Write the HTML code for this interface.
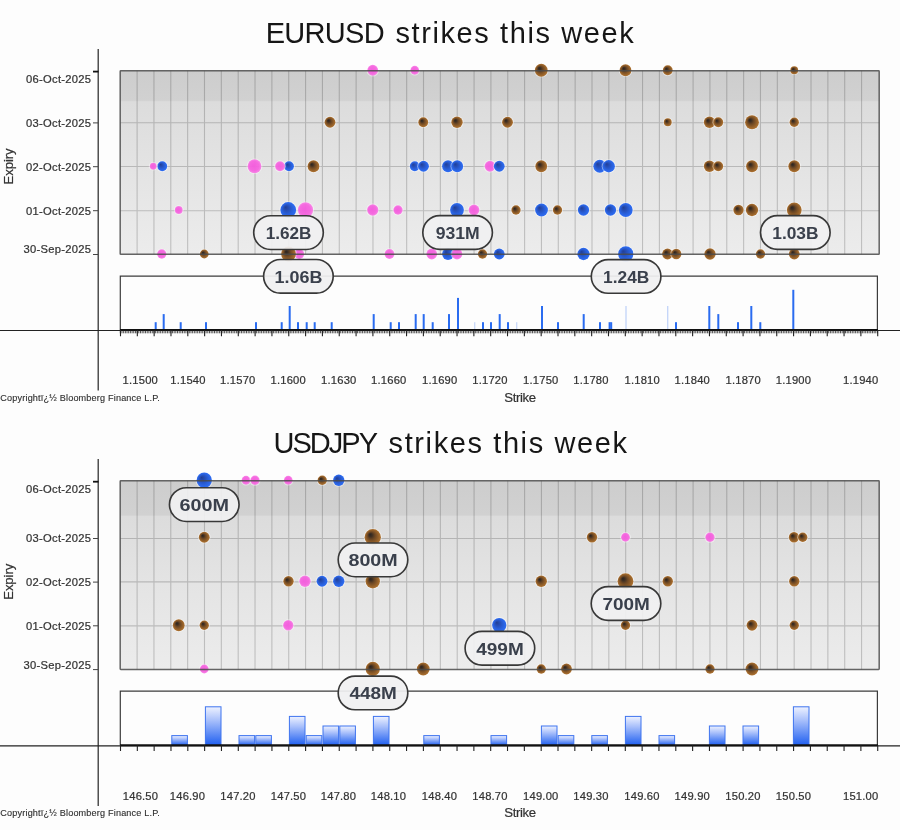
<!DOCTYPE html>
<html><head><meta charset="utf-8"><title>Strikes this week</title>
<style>
html,body{margin:0;padding:0;background:#fdfdfd;}
body{width:900px;height:830px;overflow:hidden;font-family:"Liberation Sans", sans-serif;}
svg{display:block;font-family:"Liberation Sans", sans-serif;will-change:transform;}
</style></head><body>
<svg width="900" height="830" viewBox="0 0 900 830">
<rect width="900" height="830" fill="#fdfdfd"/>
<defs>
<radialGradient id="gb" cx="0.5" cy="0.5" r="0.5" fx="0.32" fy="0.32">
<stop offset="0" stop-color="#213f96"/><stop offset="0.32" stop-color="#264eb6"/><stop offset="0.68" stop-color="#2960dc"/><stop offset="1" stop-color="#2e6df4"/></radialGradient>
<radialGradient id="gp" cx="0.5" cy="0.5" r="0.5" fx="0.4" fy="0.45">
<stop offset="0" stop-color="#f356dc"/><stop offset="0.7" stop-color="#f560de"/><stop offset="1" stop-color="#f87fe6"/></radialGradient>
<radialGradient id="gn" cx="0.5" cy="0.5" r="0.5" fx="0.33" fy="0.33">
<stop offset="0" stop-color="#2a2522"/><stop offset="0.2" stop-color="#3f2f22"/><stop offset="0.45" stop-color="#6c4724"/><stop offset="0.72" stop-color="#8e5c28"/><stop offset="1" stop-color="#ae7230"/></radialGradient>
</defs>
<defs><linearGradient id="bg1" x1="0" y1="0" x2="0" y2="1"><stop offset="0" stop-color="#cdcdcd"/><stop offset="0.1608" stop-color="#d1d1d1"/><stop offset="0.1689" stop-color="#dcdcdc"/><stop offset="0.55" stop-color="#e4e4e4"/><stop offset="1" stop-color="#ececec"/></linearGradient></defs>
<rect x="120.2" y="70.8" width="759.0" height="183.5" fill="url(#bg1)"/>
<path d="M137.10 70.8V254.3M153.95 70.8V254.3M170.79 70.8V254.3M187.64 70.8V254.3M204.49 70.8V254.3M221.34 70.8V254.3M238.19 70.8V254.3M255.03 70.8V254.3M271.88 70.8V254.3M288.73 70.8V254.3M305.58 70.8V254.3M322.43 70.8V254.3M339.27 70.8V254.3M356.12 70.8V254.3M372.97 70.8V254.3M389.82 70.8V254.3M406.67 70.8V254.3M423.51 70.8V254.3M440.36 70.8V254.3M457.21 70.8V254.3M474.06 70.8V254.3M490.91 70.8V254.3M507.75 70.8V254.3M524.60 70.8V254.3M541.45 70.8V254.3M558.30 70.8V254.3M575.15 70.8V254.3M591.99 70.8V254.3M608.84 70.8V254.3M625.69 70.8V254.3M642.54 70.8V254.3M659.39 70.8V254.3M676.23 70.8V254.3M693.08 70.8V254.3M709.93 70.8V254.3M726.78 70.8V254.3M743.63 70.8V254.3M760.47 70.8V254.3M777.32 70.8V254.3M794.17 70.8V254.3M811.02 70.8V254.3M827.87 70.8V254.3M844.71 70.8V254.3M861.56 70.8V254.3M120.2 122.8H879.2M120.2 166.5H879.2M120.2 210.8H879.2" stroke="#000" stroke-opacity="0.19" stroke-width="1.1" fill="none"/>
<path d="M98.2 49V390.4" stroke="#2c2c2c" stroke-width="1.25"/>
<path d="M93 71.6H98.5" stroke="#111" stroke-width="1.8"/>
<path d="M93 122.9H98M93 166.7H98M93 210.7H98M93 254.5H98" stroke="#444" stroke-width="1"/>
<text x="91.3" y="83" text-anchor="end" font-size="11.2" letter-spacing="0.28" fill="#333" stroke="#333" stroke-width="0.22">06-Oct-2025</text>
<text x="91.3" y="127" text-anchor="end" font-size="11.2" letter-spacing="0.28" fill="#333" stroke="#333" stroke-width="0.22">03-Oct-2025</text>
<text x="91.3" y="170.5" text-anchor="end" font-size="11.2" letter-spacing="0.28" fill="#333" stroke="#333" stroke-width="0.22">02-Oct-2025</text>
<text x="91.3" y="214.5" text-anchor="end" font-size="11.2" letter-spacing="0.28" fill="#333" stroke="#333" stroke-width="0.22">01-Oct-2025</text>
<text x="91.3" y="253" text-anchor="end" font-size="11.2" letter-spacing="0.28" fill="#333" stroke="#333" stroke-width="0.22">30-Sep-2025</text>
<text transform="translate(13.4 166.5) rotate(-90)" text-anchor="middle" font-size="13.2" letter-spacing="-0.1" fill="#333" stroke="#333" stroke-width="0.2">Expiry</text>
<text x="265.7" y="43.4" font-size="29" fill="#161616" xml:space="preserve"><tspan letter-spacing="-0.7">EURUSD</tspan><tspan letter-spacing="3.4"> </tspan><tspan letter-spacing="1.6">strikes this week</tspan></text>
<circle cx="162.25" cy="166.25" r="5.85" fill="#fff" opacity="0.45"/><circle cx="162.25" cy="166.25" r="4.90" fill="url(#gb)"/>
<circle cx="289" cy="166.25" r="5.85" fill="#fff" opacity="0.45"/><circle cx="289" cy="166.25" r="4.90" fill="url(#gb)"/>
<circle cx="414.75" cy="166.25" r="5.85" fill="#fff" opacity="0.45"/><circle cx="414.75" cy="166.25" r="4.90" fill="url(#gb)"/>
<circle cx="423.5" cy="166.25" r="6.35" fill="#fff" opacity="0.45"/><circle cx="423.5" cy="166.25" r="5.40" fill="url(#gb)"/>
<circle cx="448" cy="166.25" r="6.85" fill="#fff" opacity="0.45"/><circle cx="448" cy="166.25" r="5.90" fill="url(#gb)"/>
<circle cx="457.25" cy="166.25" r="6.85" fill="#fff" opacity="0.45"/><circle cx="457.25" cy="166.25" r="5.90" fill="url(#gb)"/>
<circle cx="599.75" cy="166.25" r="7.35" fill="#fff" opacity="0.45"/><circle cx="599.75" cy="166.25" r="6.40" fill="url(#gb)"/>
<circle cx="608.75" cy="166.25" r="7.10" fill="#fff" opacity="0.45"/><circle cx="608.75" cy="166.25" r="6.15" fill="url(#gb)"/>
<circle cx="288.25" cy="210" r="8.85" fill="#fff" opacity="0.45"/><circle cx="288.25" cy="210" r="7.90" fill="url(#gb)"/>
<circle cx="457" cy="210" r="7.85" fill="#fff" opacity="0.45"/><circle cx="457" cy="210" r="6.90" fill="url(#gb)"/>
<circle cx="541.5" cy="210" r="7.35" fill="#fff" opacity="0.45"/><circle cx="541.5" cy="210" r="6.40" fill="url(#gb)"/>
<circle cx="583.5" cy="210" r="6.60" fill="#fff" opacity="0.45"/><circle cx="583.5" cy="210" r="5.65" fill="url(#gb)"/>
<circle cx="610.5" cy="210" r="6.60" fill="#fff" opacity="0.45"/><circle cx="610.5" cy="210" r="5.65" fill="url(#gb)"/>
<circle cx="625.75" cy="210" r="7.85" fill="#fff" opacity="0.45"/><circle cx="625.75" cy="210" r="6.90" fill="url(#gb)"/>
<circle cx="448" cy="254" r="6.85" fill="#fff" opacity="0.45"/><circle cx="448" cy="254" r="5.90" fill="url(#gb)"/>
<circle cx="499.25" cy="254" r="6.35" fill="#fff" opacity="0.45"/><circle cx="499.25" cy="254" r="5.40" fill="url(#gb)"/>
<circle cx="583.5" cy="254" r="7.10" fill="#fff" opacity="0.45"/><circle cx="583.5" cy="254" r="6.15" fill="url(#gb)"/>
<circle cx="625.75" cy="254" r="8.60" fill="#fff" opacity="0.45"/><circle cx="625.75" cy="254" r="7.65" fill="url(#gb)"/>
<circle cx="372.75" cy="70.25" r="6.35" fill="#fff" opacity="0.45"/><circle cx="372.75" cy="70.25" r="5.40" fill="url(#gp)" fill-opacity="0.93"/>
<circle cx="414.75" cy="70.25" r="5.35" fill="#fff" opacity="0.45"/><circle cx="414.75" cy="70.25" r="4.40" fill="url(#gp)" fill-opacity="0.93"/>
<circle cx="153.25" cy="166.25" r="4.35" fill="#fff" opacity="0.45"/><circle cx="153.25" cy="166.25" r="3.40" fill="url(#gp)" fill-opacity="0.93"/>
<circle cx="254.5" cy="166.25" r="7.85" fill="#fff" opacity="0.45"/><circle cx="254.5" cy="166.25" r="6.90" fill="url(#gp)" fill-opacity="0.93"/>
<circle cx="280" cy="166.25" r="5.85" fill="#fff" opacity="0.45"/><circle cx="280" cy="166.25" r="4.90" fill="url(#gp)" fill-opacity="0.93"/>
<circle cx="490" cy="166.25" r="6.35" fill="#fff" opacity="0.45"/><circle cx="490" cy="166.25" r="5.40" fill="url(#gp)" fill-opacity="0.93"/>
<circle cx="178.75" cy="210" r="4.85" fill="#fff" opacity="0.45"/><circle cx="178.75" cy="210" r="3.90" fill="url(#gp)" fill-opacity="0.93"/>
<circle cx="305.5" cy="210" r="8.60" fill="#fff" opacity="0.45"/><circle cx="305.5" cy="210" r="7.65" fill="url(#gp)" fill-opacity="0.93"/>
<circle cx="372.75" cy="210" r="6.60" fill="#fff" opacity="0.45"/><circle cx="372.75" cy="210" r="5.65" fill="url(#gp)" fill-opacity="0.93"/>
<circle cx="398" cy="210" r="5.60" fill="#fff" opacity="0.45"/><circle cx="398" cy="210" r="4.65" fill="url(#gp)" fill-opacity="0.93"/>
<circle cx="474" cy="210" r="6.35" fill="#fff" opacity="0.45"/><circle cx="474" cy="210" r="5.40" fill="url(#gp)" fill-opacity="0.93"/>
<circle cx="161.75" cy="254" r="5.60" fill="#fff" opacity="0.45"/><circle cx="161.75" cy="254" r="4.65" fill="url(#gp)" fill-opacity="0.93"/>
<circle cx="299.25" cy="254" r="5.85" fill="#fff" opacity="0.45"/><circle cx="299.25" cy="254" r="4.90" fill="url(#gp)" fill-opacity="0.93"/>
<circle cx="389.5" cy="254" r="5.85" fill="#fff" opacity="0.45"/><circle cx="389.5" cy="254" r="4.90" fill="url(#gp)" fill-opacity="0.93"/>
<circle cx="431.75" cy="254" r="6.35" fill="#fff" opacity="0.45"/><circle cx="431.75" cy="254" r="5.40" fill="url(#gp)" fill-opacity="0.93"/>
<circle cx="457" cy="254" r="6.35" fill="#fff" opacity="0.45"/><circle cx="457" cy="254" r="5.40" fill="url(#gp)" fill-opacity="0.93"/>
<circle cx="499.25" cy="166.25" r="6.35" fill="#fff" opacity="0.45"/><circle cx="499.25" cy="166.25" r="5.40" fill="url(#gb)"/>
<circle cx="541.25" cy="70.25" r="7.35" fill="#fff" opacity="0.45"/><circle cx="541.25" cy="70.25" r="6.40" fill="url(#gn)"/>
<circle cx="625.5" cy="70.25" r="6.85" fill="#fff" opacity="0.45"/><circle cx="625.5" cy="70.25" r="5.90" fill="url(#gn)"/>
<circle cx="667.75" cy="70.25" r="5.85" fill="#fff" opacity="0.45"/><circle cx="667.75" cy="70.25" r="4.90" fill="url(#gn)"/>
<circle cx="794.25" cy="70.25" r="4.85" fill="#fff" opacity="0.45"/><circle cx="794.25" cy="70.25" r="3.90" fill="url(#gn)"/>
<circle cx="330" cy="122.25" r="6.35" fill="#fff" opacity="0.45"/><circle cx="330" cy="122.25" r="5.40" fill="url(#gn)"/>
<circle cx="423.25" cy="122.25" r="5.85" fill="#fff" opacity="0.45"/><circle cx="423.25" cy="122.25" r="4.90" fill="url(#gn)"/>
<circle cx="457" cy="122.25" r="6.60" fill="#fff" opacity="0.45"/><circle cx="457" cy="122.25" r="5.65" fill="url(#gn)"/>
<circle cx="507.5" cy="122.25" r="6.35" fill="#fff" opacity="0.45"/><circle cx="507.5" cy="122.25" r="5.40" fill="url(#gn)"/>
<circle cx="667.75" cy="122.25" r="4.85" fill="#fff" opacity="0.45"/><circle cx="667.75" cy="122.25" r="3.90" fill="url(#gn)"/>
<circle cx="709.5" cy="122.25" r="6.60" fill="#fff" opacity="0.45"/><circle cx="709.5" cy="122.25" r="5.65" fill="url(#gn)"/>
<circle cx="718.25" cy="122.25" r="5.85" fill="#fff" opacity="0.45"/><circle cx="718.25" cy="122.25" r="4.90" fill="url(#gn)"/>
<circle cx="752" cy="122.25" r="7.85" fill="#fff" opacity="0.45"/><circle cx="752" cy="122.25" r="6.90" fill="url(#gn)"/>
<circle cx="794.25" cy="122.25" r="5.60" fill="#fff" opacity="0.45"/><circle cx="794.25" cy="122.25" r="4.65" fill="url(#gn)"/>
<circle cx="313.5" cy="166.25" r="6.85" fill="#fff" opacity="0.45"/><circle cx="313.5" cy="166.25" r="5.90" fill="url(#gn)"/>
<circle cx="541.25" cy="166.25" r="6.85" fill="#fff" opacity="0.45"/><circle cx="541.25" cy="166.25" r="5.90" fill="url(#gn)"/>
<circle cx="709.5" cy="166.25" r="6.60" fill="#fff" opacity="0.45"/><circle cx="709.5" cy="166.25" r="5.65" fill="url(#gn)"/>
<circle cx="718.25" cy="166.25" r="5.85" fill="#fff" opacity="0.45"/><circle cx="718.25" cy="166.25" r="4.90" fill="url(#gn)"/>
<circle cx="752" cy="166.25" r="6.85" fill="#fff" opacity="0.45"/><circle cx="752" cy="166.25" r="5.90" fill="url(#gn)"/>
<circle cx="794.25" cy="166.25" r="6.85" fill="#fff" opacity="0.45"/><circle cx="794.25" cy="166.25" r="5.90" fill="url(#gn)"/>
<circle cx="516" cy="210" r="5.60" fill="#fff" opacity="0.45"/><circle cx="516" cy="210" r="4.65" fill="url(#gn)"/>
<circle cx="557.5" cy="210" r="5.60" fill="#fff" opacity="0.45"/><circle cx="557.5" cy="210" r="4.65" fill="url(#gn)"/>
<circle cx="738.5" cy="210" r="6.10" fill="#fff" opacity="0.45"/><circle cx="738.5" cy="210" r="5.15" fill="url(#gn)"/>
<circle cx="752" cy="210" r="7.10" fill="#fff" opacity="0.45"/><circle cx="752" cy="210" r="6.15" fill="url(#gn)"/>
<circle cx="794.25" cy="210" r="8.35" fill="#fff" opacity="0.45"/><circle cx="794.25" cy="210" r="7.40" fill="url(#gn)"/>
<circle cx="204.25" cy="254" r="5.35" fill="#fff" opacity="0.45"/><circle cx="204.25" cy="254" r="4.40" fill="url(#gn)"/>
<circle cx="288.5" cy="254" r="8.35" fill="#fff" opacity="0.45"/><circle cx="288.5" cy="254" r="7.40" fill="url(#gn)"/>
<circle cx="482.5" cy="254" r="5.60" fill="#fff" opacity="0.45"/><circle cx="482.5" cy="254" r="4.65" fill="url(#gn)"/>
<circle cx="667.5" cy="254" r="6.35" fill="#fff" opacity="0.45"/><circle cx="667.5" cy="254" r="5.40" fill="url(#gn)"/>
<circle cx="676.25" cy="254" r="6.10" fill="#fff" opacity="0.45"/><circle cx="676.25" cy="254" r="5.15" fill="url(#gn)"/>
<circle cx="710" cy="254" r="6.60" fill="#fff" opacity="0.45"/><circle cx="710" cy="254" r="5.65" fill="url(#gn)"/>
<circle cx="760.5" cy="254" r="5.60" fill="#fff" opacity="0.45"/><circle cx="760.5" cy="254" r="4.65" fill="url(#gn)"/>
<circle cx="794.25" cy="254" r="6.35" fill="#fff" opacity="0.45"/><circle cx="794.25" cy="254" r="5.40" fill="url(#gn)"/>
<rect x="120.2" y="70.8" width="759.0" height="183.5" rx="0.6" fill="none" stroke="#4a4a4a" stroke-width="1.5" opacity="0.85"/>
<path d="M120.3 329.9V276.2H877.4V329.9" fill="none" stroke="#3c3c3c" stroke-width="1.2"/>
<path d="M0 330.5H900" stroke="#222" stroke-width="1.1"/>
<rect x="154.70" y="322.20" width="2" height="7.70" fill="#2a6cf0" opacity="1"/>
<rect x="162.70" y="314.10" width="2" height="15.80" fill="#2a6cf0" opacity="1"/>
<rect x="179.70" y="322.20" width="2" height="7.70" fill="#2a6cf0" opacity="1"/>
<rect x="205.00" y="322.20" width="2" height="7.70" fill="#2a6cf0" opacity="1"/>
<rect x="255.00" y="322.20" width="2" height="7.70" fill="#2a6cf0" opacity="1"/>
<rect x="280.70" y="322.20" width="2" height="7.70" fill="#2a6cf0" opacity="1"/>
<rect x="288.70" y="306.00" width="2" height="23.90" fill="#2a6cf0" opacity="1"/>
<rect x="297.00" y="322.20" width="2" height="7.70" fill="#2a6cf0" opacity="1"/>
<rect x="305.70" y="322.20" width="2" height="7.70" fill="#2a6cf0" opacity="1"/>
<rect x="313.70" y="322.20" width="2" height="7.70" fill="#2a6cf0" opacity="1"/>
<rect x="330.70" y="322.20" width="2" height="7.70" fill="#2a6cf0" opacity="1"/>
<rect x="372.70" y="314.10" width="2" height="15.80" fill="#2a6cf0" opacity="1"/>
<rect x="389.70" y="322.20" width="2" height="7.70" fill="#2a6cf0" opacity="1"/>
<rect x="398.00" y="322.20" width="2" height="7.70" fill="#2a6cf0" opacity="1"/>
<rect x="414.70" y="314.10" width="2" height="15.80" fill="#2a6cf0" opacity="1"/>
<rect x="422.70" y="314.10" width="2" height="15.80" fill="#2a6cf0" opacity="1"/>
<rect x="431.70" y="322.20" width="2" height="7.70" fill="#2a6cf0" opacity="1"/>
<rect x="448.00" y="314.10" width="2" height="15.80" fill="#2a6cf0" opacity="1"/>
<rect x="457.00" y="297.90" width="2" height="32.00" fill="#2a6cf0" opacity="1"/>
<rect x="474.05" y="322.20" width="1.3" height="7.70" fill="#2a6cf0" opacity="0.25"/>
<rect x="482.00" y="322.20" width="2" height="7.70" fill="#2a6cf0" opacity="1"/>
<rect x="490.00" y="322.20" width="2" height="7.70" fill="#2a6cf0" opacity="1"/>
<rect x="498.70" y="314.10" width="2" height="15.80" fill="#2a6cf0" opacity="1"/>
<rect x="507.00" y="322.20" width="2" height="7.70" fill="#2a6cf0" opacity="1"/>
<rect x="516.05" y="322.20" width="1.3" height="7.70" fill="#2a6cf0" opacity="0.25"/>
<rect x="541.00" y="306.00" width="2" height="23.90" fill="#2a6cf0" opacity="1"/>
<rect x="557.00" y="322.20" width="2" height="7.70" fill="#2a6cf0" opacity="1"/>
<rect x="582.70" y="314.10" width="2" height="15.80" fill="#2a6cf0" opacity="1"/>
<rect x="599.00" y="322.20" width="2" height="7.70" fill="#2a6cf0" opacity="1"/>
<rect x="608.60" y="322.20" width="2" height="7.70" fill="#2a6cf0" opacity="1"/>
<rect x="610.20" y="322.20" width="2" height="7.70" fill="#2a6cf0" opacity="1"/>
<rect x="625.35" y="306.00" width="1.3" height="23.90" fill="#2a6cf0" opacity="0.28"/>
<rect x="667.05" y="306.00" width="1.3" height="23.90" fill="#2a6cf0" opacity="0.28"/>
<rect x="675.00" y="322.20" width="2" height="7.70" fill="#2a6cf0" opacity="1"/>
<rect x="708.30" y="306.00" width="2" height="23.90" fill="#2a6cf0" opacity="1"/>
<rect x="717.30" y="314.10" width="2" height="15.80" fill="#2a6cf0" opacity="1"/>
<rect x="737.00" y="322.20" width="2" height="7.70" fill="#2a6cf0" opacity="1"/>
<rect x="750.30" y="306.00" width="2" height="23.90" fill="#2a6cf0" opacity="1"/>
<rect x="759.30" y="322.20" width="2" height="7.70" fill="#2a6cf0" opacity="1"/>
<rect x="792.30" y="289.80" width="2" height="40.10" fill="#2a6cf0" opacity="1"/>
<path d="M120 329.9H878" stroke="#111" stroke-width="2"/>
<path d="M120.30 329.9V333.29999999999995M121.98 329.9V333.29999999999995M123.67 329.9V333.29999999999995M125.35 329.9V333.29999999999995M127.03 329.9V333.29999999999995M128.71 329.9V333.29999999999995M130.40 329.9V333.29999999999995M132.08 329.9V333.29999999999995M133.76 329.9V333.29999999999995M135.44 329.9V333.29999999999995M137.13 329.9V333.29999999999995M138.81 329.9V333.29999999999995M140.49 329.9V333.29999999999995M142.17 329.9V333.29999999999995M143.86 329.9V333.29999999999995M145.54 329.9V333.29999999999995M147.22 329.9V333.29999999999995M148.91 329.9V333.29999999999995M150.59 329.9V333.29999999999995M152.27 329.9V333.29999999999995M153.95 329.9V333.29999999999995M155.64 329.9V333.29999999999995M157.32 329.9V333.29999999999995M159.00 329.9V333.29999999999995M160.68 329.9V333.29999999999995M162.37 329.9V333.29999999999995M164.05 329.9V333.29999999999995M165.73 329.9V333.29999999999995M167.41 329.9V333.29999999999995M169.10 329.9V333.29999999999995M170.78 329.9V333.29999999999995M172.46 329.9V333.29999999999995M174.15 329.9V333.29999999999995M175.83 329.9V333.29999999999995M177.51 329.9V333.29999999999995M179.19 329.9V333.29999999999995M180.88 329.9V333.29999999999995M182.56 329.9V333.29999999999995M184.24 329.9V333.29999999999995M185.92 329.9V333.29999999999995M187.61 329.9V333.29999999999995M189.29 329.9V333.29999999999995M190.97 329.9V333.29999999999995M192.65 329.9V333.29999999999995M194.34 329.9V333.29999999999995M196.02 329.9V333.29999999999995M197.70 329.9V333.29999999999995M199.39 329.9V333.29999999999995M201.07 329.9V333.29999999999995M202.75 329.9V333.29999999999995M204.43 329.9V333.29999999999995M206.12 329.9V333.29999999999995M207.80 329.9V333.29999999999995M209.48 329.9V333.29999999999995M211.16 329.9V333.29999999999995M212.85 329.9V333.29999999999995M214.53 329.9V333.29999999999995M216.21 329.9V333.29999999999995M217.89 329.9V333.29999999999995M219.58 329.9V333.29999999999995M221.26 329.9V333.29999999999995M222.94 329.9V333.29999999999995M224.63 329.9V333.29999999999995M226.31 329.9V333.29999999999995M227.99 329.9V333.29999999999995M229.67 329.9V333.29999999999995M231.36 329.9V333.29999999999995M233.04 329.9V333.29999999999995M234.72 329.9V333.29999999999995M236.40 329.9V333.29999999999995M238.09 329.9V333.29999999999995M239.77 329.9V333.29999999999995M241.45 329.9V333.29999999999995M243.13 329.9V333.29999999999995M244.82 329.9V333.29999999999995M246.50 329.9V333.29999999999995M248.18 329.9V333.29999999999995M249.87 329.9V333.29999999999995M251.55 329.9V333.29999999999995M253.23 329.9V333.29999999999995M254.91 329.9V333.29999999999995M256.60 329.9V333.29999999999995M258.28 329.9V333.29999999999995M259.96 329.9V333.29999999999995M261.64 329.9V333.29999999999995M263.33 329.9V333.29999999999995M265.01 329.9V333.29999999999995M266.69 329.9V333.29999999999995M268.37 329.9V333.29999999999995M270.06 329.9V333.29999999999995M271.74 329.9V333.29999999999995M273.42 329.9V333.29999999999995M275.11 329.9V333.29999999999995M276.79 329.9V333.29999999999995M278.47 329.9V333.29999999999995M280.15 329.9V333.29999999999995M281.84 329.9V333.29999999999995M283.52 329.9V333.29999999999995M285.20 329.9V333.29999999999995M286.88 329.9V333.29999999999995M288.57 329.9V333.29999999999995M290.25 329.9V333.29999999999995M291.93 329.9V333.29999999999995M293.61 329.9V333.29999999999995M295.30 329.9V333.29999999999995M296.98 329.9V333.29999999999995M298.66 329.9V333.29999999999995M300.35 329.9V333.29999999999995M302.03 329.9V333.29999999999995M303.71 329.9V333.29999999999995M305.39 329.9V333.29999999999995M307.08 329.9V333.29999999999995M308.76 329.9V333.29999999999995M310.44 329.9V333.29999999999995M312.12 329.9V333.29999999999995M313.81 329.9V333.29999999999995M315.49 329.9V333.29999999999995M317.17 329.9V333.29999999999995M318.85 329.9V333.29999999999995M320.54 329.9V333.29999999999995M322.22 329.9V333.29999999999995M323.90 329.9V333.29999999999995M325.59 329.9V333.29999999999995M327.27 329.9V333.29999999999995M328.95 329.9V333.29999999999995M330.63 329.9V333.29999999999995M332.32 329.9V333.29999999999995M334.00 329.9V333.29999999999995M335.68 329.9V333.29999999999995M337.36 329.9V333.29999999999995M339.05 329.9V333.29999999999995M340.73 329.9V333.29999999999995M342.41 329.9V333.29999999999995M344.09 329.9V333.29999999999995M345.78 329.9V333.29999999999995M347.46 329.9V333.29999999999995M349.14 329.9V333.29999999999995M350.83 329.9V333.29999999999995M352.51 329.9V333.29999999999995M354.19 329.9V333.29999999999995M355.87 329.9V333.29999999999995M357.56 329.9V333.29999999999995M359.24 329.9V333.29999999999995M360.92 329.9V333.29999999999995M362.60 329.9V333.29999999999995M364.29 329.9V333.29999999999995M365.97 329.9V333.29999999999995M367.65 329.9V333.29999999999995M369.33 329.9V333.29999999999995M371.02 329.9V333.29999999999995M372.70 329.9V333.29999999999995M374.38 329.9V333.29999999999995M376.07 329.9V333.29999999999995M377.75 329.9V333.29999999999995M379.43 329.9V333.29999999999995M381.11 329.9V333.29999999999995M382.80 329.9V333.29999999999995M384.48 329.9V333.29999999999995M386.16 329.9V333.29999999999995M387.84 329.9V333.29999999999995M389.53 329.9V333.29999999999995M391.21 329.9V333.29999999999995M392.89 329.9V333.29999999999995M394.57 329.9V333.29999999999995M396.26 329.9V333.29999999999995M397.94 329.9V333.29999999999995M399.62 329.9V333.29999999999995M401.31 329.9V333.29999999999995M402.99 329.9V333.29999999999995M404.67 329.9V333.29999999999995M406.35 329.9V333.29999999999995M408.04 329.9V333.29999999999995M409.72 329.9V333.29999999999995M411.40 329.9V333.29999999999995M413.08 329.9V333.29999999999995M414.77 329.9V333.29999999999995M416.45 329.9V333.29999999999995M418.13 329.9V333.29999999999995M419.81 329.9V333.29999999999995M421.50 329.9V333.29999999999995M423.18 329.9V333.29999999999995M424.86 329.9V333.29999999999995M426.55 329.9V333.29999999999995M428.23 329.9V333.29999999999995M429.91 329.9V333.29999999999995M431.59 329.9V333.29999999999995M433.28 329.9V333.29999999999995M434.96 329.9V333.29999999999995M436.64 329.9V333.29999999999995M438.32 329.9V333.29999999999995M440.01 329.9V333.29999999999995M441.69 329.9V333.29999999999995M443.37 329.9V333.29999999999995M445.05 329.9V333.29999999999995M446.74 329.9V333.29999999999995M448.42 329.9V333.29999999999995M450.10 329.9V333.29999999999995M451.79 329.9V333.29999999999995M453.47 329.9V333.29999999999995M455.15 329.9V333.29999999999995M456.83 329.9V333.29999999999995M458.52 329.9V333.29999999999995M460.20 329.9V333.29999999999995M461.88 329.9V333.29999999999995M463.56 329.9V333.29999999999995M465.25 329.9V333.29999999999995M466.93 329.9V333.29999999999995M468.61 329.9V333.29999999999995M470.29 329.9V333.29999999999995M471.98 329.9V333.29999999999995M473.66 329.9V333.29999999999995M475.34 329.9V333.29999999999995M477.03 329.9V333.29999999999995M478.71 329.9V333.29999999999995M480.39 329.9V333.29999999999995M482.07 329.9V333.29999999999995M483.76 329.9V333.29999999999995M485.44 329.9V333.29999999999995M487.12 329.9V333.29999999999995M488.80 329.9V333.29999999999995M490.49 329.9V333.29999999999995M492.17 329.9V333.29999999999995M493.85 329.9V333.29999999999995M495.53 329.9V333.29999999999995M497.22 329.9V333.29999999999995M498.90 329.9V333.29999999999995M500.58 329.9V333.29999999999995M502.27 329.9V333.29999999999995M503.95 329.9V333.29999999999995M505.63 329.9V333.29999999999995M507.31 329.9V333.29999999999995M509.00 329.9V333.29999999999995M510.68 329.9V333.29999999999995M512.36 329.9V333.29999999999995M514.04 329.9V333.29999999999995M515.73 329.9V333.29999999999995M517.41 329.9V333.29999999999995M519.09 329.9V333.29999999999995M520.77 329.9V333.29999999999995M522.46 329.9V333.29999999999995M524.14 329.9V333.29999999999995M525.82 329.9V333.29999999999995M527.51 329.9V333.29999999999995M529.19 329.9V333.29999999999995M530.87 329.9V333.29999999999995M532.55 329.9V333.29999999999995M534.24 329.9V333.29999999999995M535.92 329.9V333.29999999999995M537.60 329.9V333.29999999999995M539.28 329.9V333.29999999999995M540.97 329.9V333.29999999999995M542.65 329.9V333.29999999999995M544.33 329.9V333.29999999999995M546.01 329.9V333.29999999999995M547.70 329.9V333.29999999999995M549.38 329.9V333.29999999999995M551.06 329.9V333.29999999999995M552.75 329.9V333.29999999999995M554.43 329.9V333.29999999999995M556.11 329.9V333.29999999999995M557.79 329.9V333.29999999999995M559.48 329.9V333.29999999999995M561.16 329.9V333.29999999999995M562.84 329.9V333.29999999999995M564.52 329.9V333.29999999999995M566.21 329.9V333.29999999999995M567.89 329.9V333.29999999999995M569.57 329.9V333.29999999999995M571.25 329.9V333.29999999999995M572.94 329.9V333.29999999999995M574.62 329.9V333.29999999999995M576.30 329.9V333.29999999999995M577.99 329.9V333.29999999999995M579.67 329.9V333.29999999999995M581.35 329.9V333.29999999999995M583.03 329.9V333.29999999999995M584.72 329.9V333.29999999999995M586.40 329.9V333.29999999999995M588.08 329.9V333.29999999999995M589.76 329.9V333.29999999999995M591.45 329.9V333.29999999999995M593.13 329.9V333.29999999999995M594.81 329.9V333.29999999999995M596.49 329.9V333.29999999999995M598.18 329.9V333.29999999999995M599.86 329.9V333.29999999999995M601.54 329.9V333.29999999999995M603.23 329.9V333.29999999999995M604.91 329.9V333.29999999999995M606.59 329.9V333.29999999999995M608.27 329.9V333.29999999999995M609.96 329.9V333.29999999999995M611.64 329.9V333.29999999999995M613.32 329.9V333.29999999999995M615.00 329.9V333.29999999999995M616.69 329.9V333.29999999999995M618.37 329.9V333.29999999999995M620.05 329.9V333.29999999999995M621.73 329.9V333.29999999999995M623.42 329.9V333.29999999999995M625.10 329.9V333.29999999999995M626.78 329.9V333.29999999999995M628.47 329.9V333.29999999999995M630.15 329.9V333.29999999999995M631.83 329.9V333.29999999999995M633.51 329.9V333.29999999999995M635.20 329.9V333.29999999999995M636.88 329.9V333.29999999999995M638.56 329.9V333.29999999999995M640.24 329.9V333.29999999999995M641.93 329.9V333.29999999999995M643.61 329.9V333.29999999999995M645.29 329.9V333.29999999999995M646.97 329.9V333.29999999999995M648.66 329.9V333.29999999999995M650.34 329.9V333.29999999999995M652.02 329.9V333.29999999999995M653.71 329.9V333.29999999999995M655.39 329.9V333.29999999999995M657.07 329.9V333.29999999999995M658.75 329.9V333.29999999999995M660.44 329.9V333.29999999999995M662.12 329.9V333.29999999999995M663.80 329.9V333.29999999999995M665.48 329.9V333.29999999999995M667.17 329.9V333.29999999999995M668.85 329.9V333.29999999999995M670.53 329.9V333.29999999999995M672.21 329.9V333.29999999999995M673.90 329.9V333.29999999999995M675.58 329.9V333.29999999999995M677.26 329.9V333.29999999999995M678.95 329.9V333.29999999999995M680.63 329.9V333.29999999999995M682.31 329.9V333.29999999999995M683.99 329.9V333.29999999999995M685.68 329.9V333.29999999999995M687.36 329.9V333.29999999999995M689.04 329.9V333.29999999999995M690.72 329.9V333.29999999999995M692.41 329.9V333.29999999999995M694.09 329.9V333.29999999999995M695.77 329.9V333.29999999999995M697.45 329.9V333.29999999999995M699.14 329.9V333.29999999999995M700.82 329.9V333.29999999999995M702.50 329.9V333.29999999999995M704.19 329.9V333.29999999999995M705.87 329.9V333.29999999999995M707.55 329.9V333.29999999999995M709.23 329.9V333.29999999999995M710.92 329.9V333.29999999999995M712.60 329.9V333.29999999999995M714.28 329.9V333.29999999999995M715.96 329.9V333.29999999999995M717.65 329.9V333.29999999999995M719.33 329.9V333.29999999999995M721.01 329.9V333.29999999999995M722.69 329.9V333.29999999999995M724.38 329.9V333.29999999999995M726.06 329.9V333.29999999999995M727.74 329.9V333.29999999999995M729.43 329.9V333.29999999999995M731.11 329.9V333.29999999999995M732.79 329.9V333.29999999999995M734.47 329.9V333.29999999999995M736.16 329.9V333.29999999999995M737.84 329.9V333.29999999999995M739.52 329.9V333.29999999999995M741.20 329.9V333.29999999999995M742.89 329.9V333.29999999999995M744.57 329.9V333.29999999999995M746.25 329.9V333.29999999999995M747.93 329.9V333.29999999999995M749.62 329.9V333.29999999999995M751.30 329.9V333.29999999999995M752.98 329.9V333.29999999999995M754.67 329.9V333.29999999999995M756.35 329.9V333.29999999999995M758.03 329.9V333.29999999999995M759.71 329.9V333.29999999999995M761.40 329.9V333.29999999999995M763.08 329.9V333.29999999999995M764.76 329.9V333.29999999999995M766.44 329.9V333.29999999999995M768.13 329.9V333.29999999999995M769.81 329.9V333.29999999999995M771.49 329.9V333.29999999999995M773.17 329.9V333.29999999999995M774.86 329.9V333.29999999999995M776.54 329.9V333.29999999999995M778.22 329.9V333.29999999999995M779.91 329.9V333.29999999999995M781.59 329.9V333.29999999999995M783.27 329.9V333.29999999999995M784.95 329.9V333.29999999999995M786.64 329.9V333.29999999999995M788.32 329.9V333.29999999999995M790.00 329.9V333.29999999999995M791.68 329.9V333.29999999999995M793.37 329.9V333.29999999999995M795.05 329.9V333.29999999999995M796.73 329.9V333.29999999999995M798.41 329.9V333.29999999999995M800.10 329.9V333.29999999999995M801.78 329.9V333.29999999999995M803.46 329.9V333.29999999999995M805.15 329.9V333.29999999999995M806.83 329.9V333.29999999999995M808.51 329.9V333.29999999999995M810.19 329.9V333.29999999999995M811.88 329.9V333.29999999999995M813.56 329.9V333.29999999999995M815.24 329.9V333.29999999999995M816.92 329.9V333.29999999999995M818.61 329.9V333.29999999999995M820.29 329.9V333.29999999999995M821.97 329.9V333.29999999999995M823.65 329.9V333.29999999999995M825.34 329.9V333.29999999999995M827.02 329.9V333.29999999999995M828.70 329.9V333.29999999999995M830.39 329.9V333.29999999999995M832.07 329.9V333.29999999999995M833.75 329.9V333.29999999999995M835.43 329.9V333.29999999999995M837.12 329.9V333.29999999999995M838.80 329.9V333.29999999999995M840.48 329.9V333.29999999999995M842.16 329.9V333.29999999999995M843.85 329.9V333.29999999999995M845.53 329.9V333.29999999999995M847.21 329.9V333.29999999999995M848.89 329.9V333.29999999999995M850.58 329.9V333.29999999999995M852.26 329.9V333.29999999999995M853.94 329.9V333.29999999999995M855.63 329.9V333.29999999999995M857.31 329.9V333.29999999999995M858.99 329.9V333.29999999999995M860.67 329.9V333.29999999999995M862.36 329.9V333.29999999999995M864.04 329.9V333.29999999999995M865.72 329.9V333.29999999999995M867.40 329.9V333.29999999999995M869.09 329.9V333.29999999999995M870.77 329.9V333.29999999999995M872.45 329.9V333.29999999999995M874.13 329.9V333.29999999999995M875.82 329.9V333.29999999999995M877.50 329.9V333.29999999999995" stroke="#1a1a1a" stroke-width="0.85" opacity="0.9"/>
<path d="M120.50 329.9V336.29999999999995M137.33 329.9V336.29999999999995M154.15 329.9V336.29999999999995M170.98 329.9V336.29999999999995M187.81 329.9V336.29999999999995M204.63 329.9V336.29999999999995M221.46 329.9V336.29999999999995M238.29 329.9V336.29999999999995M255.12 329.9V336.29999999999995M271.94 329.9V336.29999999999995M288.77 329.9V336.29999999999995M305.60 329.9V336.29999999999995M322.42 329.9V336.29999999999995M339.25 329.9V336.29999999999995M356.08 329.9V336.29999999999995M372.91 329.9V336.29999999999995M389.73 329.9V336.29999999999995M406.56 329.9V336.29999999999995M423.39 329.9V336.29999999999995M440.21 329.9V336.29999999999995M457.04 329.9V336.29999999999995M473.87 329.9V336.29999999999995M490.69 329.9V336.29999999999995M507.52 329.9V336.29999999999995M524.35 329.9V336.29999999999995M541.18 329.9V336.29999999999995M558.00 329.9V336.29999999999995M574.83 329.9V336.29999999999995M591.66 329.9V336.29999999999995M608.48 329.9V336.29999999999995M625.31 329.9V336.29999999999995M642.14 329.9V336.29999999999995M658.96 329.9V336.29999999999995M675.79 329.9V336.29999999999995M692.62 329.9V336.29999999999995M709.45 329.9V336.29999999999995M726.27 329.9V336.29999999999995M743.10 329.9V336.29999999999995M759.93 329.9V336.29999999999995M776.75 329.9V336.29999999999995M793.58 329.9V336.29999999999995M810.41 329.9V336.29999999999995M827.23 329.9V336.29999999999995M844.06 329.9V336.29999999999995M860.89 329.9V336.29999999999995M877.72 329.9V336.29999999999995" stroke="#222" stroke-width="1.1"/>
<text x="140.3" y="384" text-anchor="middle" font-size="11.2" letter-spacing="0.2" fill="#333" stroke="#333" stroke-width="0.22">1.1500</text>
<text x="188" y="384" text-anchor="middle" font-size="11.2" letter-spacing="0.2" fill="#333" stroke="#333" stroke-width="0.22">1.1540</text>
<text x="237.8" y="384" text-anchor="middle" font-size="11.2" letter-spacing="0.2" fill="#333" stroke="#333" stroke-width="0.22">1.1570</text>
<text x="288.2" y="384" text-anchor="middle" font-size="11.2" letter-spacing="0.2" fill="#333" stroke="#333" stroke-width="0.22">1.1600</text>
<text x="338.8" y="384" text-anchor="middle" font-size="11.2" letter-spacing="0.2" fill="#333" stroke="#333" stroke-width="0.22">1.1630</text>
<text x="388.8" y="384" text-anchor="middle" font-size="11.2" letter-spacing="0.2" fill="#333" stroke="#333" stroke-width="0.22">1.1660</text>
<text x="439.7" y="384" text-anchor="middle" font-size="11.2" letter-spacing="0.2" fill="#333" stroke="#333" stroke-width="0.22">1.1690</text>
<text x="490" y="384" text-anchor="middle" font-size="11.2" letter-spacing="0.2" fill="#333" stroke="#333" stroke-width="0.22">1.1720</text>
<text x="540.8" y="384" text-anchor="middle" font-size="11.2" letter-spacing="0.2" fill="#333" stroke="#333" stroke-width="0.22">1.1750</text>
<text x="591" y="384" text-anchor="middle" font-size="11.2" letter-spacing="0.2" fill="#333" stroke="#333" stroke-width="0.22">1.1780</text>
<text x="642.2" y="384" text-anchor="middle" font-size="11.2" letter-spacing="0.2" fill="#333" stroke="#333" stroke-width="0.22">1.1810</text>
<text x="692.3" y="384" text-anchor="middle" font-size="11.2" letter-spacing="0.2" fill="#333" stroke="#333" stroke-width="0.22">1.1840</text>
<text x="743.2" y="384" text-anchor="middle" font-size="11.2" letter-spacing="0.2" fill="#333" stroke="#333" stroke-width="0.22">1.1870</text>
<text x="793.5" y="384" text-anchor="middle" font-size="11.2" letter-spacing="0.2" fill="#333" stroke="#333" stroke-width="0.22">1.1900</text>
<text x="860.7" y="384" text-anchor="middle" font-size="11.2" letter-spacing="0.2" fill="#333" stroke="#333" stroke-width="0.22">1.1940</text>
<text x="520" y="401.9" text-anchor="middle" font-size="13.2" letter-spacing="-0.4" fill="#333" stroke="#333" stroke-width="0.2">Strike</text>
<text x="0.3" y="401" font-size="9.1" fill="#2e2e2e" stroke="#2e2e2e" stroke-width="0.12" textLength="159.5" lengthAdjust="spacing">Copyright&#239;&#191;&#189; Bloomberg Finance L.P.</text>
<rect x="253.70" y="215.75" width="69.6" height="33.7" rx="16.85" fill="#f0f0f1" fill-opacity="0.93" stroke="#383838" stroke-width="1.65"/><text x="265.70" y="238.90" font-size="16.3" font-weight="bold" textLength="45.8" lengthAdjust="spacingAndGlyphs" fill="#3a404c">1.62B</text>
<rect x="422.80" y="215.65" width="69.6" height="33.7" rx="16.85" fill="#f0f0f1" fill-opacity="0.93" stroke="#383838" stroke-width="1.65"/><text x="435.70" y="238.80" font-size="16.3" font-weight="bold" textLength="44.0" lengthAdjust="spacingAndGlyphs" fill="#3a404c">931M</text>
<rect x="760.50" y="215.65" width="69.6" height="33.7" rx="16.85" fill="#f0f0f1" fill-opacity="0.93" stroke="#383838" stroke-width="1.65"/><text x="772.25" y="238.80" font-size="16.3" font-weight="bold" textLength="46.3" lengthAdjust="spacingAndGlyphs" fill="#3a404c">1.03B</text>
<rect x="263.60" y="259.45" width="69.6" height="33.7" rx="16.85" fill="#f0f0f1" fill-opacity="0.93" stroke="#383838" stroke-width="1.65"/><text x="274.60" y="282.60" font-size="16.3" font-weight="bold" textLength="47.8" lengthAdjust="spacingAndGlyphs" fill="#3a404c">1.06B</text>
<rect x="591.30" y="259.55" width="69.6" height="33.7" rx="16.85" fill="#f0f0f1" fill-opacity="0.93" stroke="#383838" stroke-width="1.65"/><text x="603.05" y="282.70" font-size="16.3" font-weight="bold" textLength="46.3" lengthAdjust="spacingAndGlyphs" fill="#3a404c">1.24B</text>
<defs><linearGradient id="bg2" x1="0" y1="0" x2="0" y2="1"><stop offset="0" stop-color="#cdcdcd"/><stop offset="0.1813" stop-color="#d1d1d1"/><stop offset="0.1893" stop-color="#dcdcdc"/><stop offset="0.55" stop-color="#e4e4e4"/><stop offset="1" stop-color="#ececec"/></linearGradient></defs>
<rect x="120.2" y="480.8" width="759.0" height="188.59999999999997" fill="url(#bg2)"/>
<path d="M137.10 480.8V669.4M153.95 480.8V669.4M170.79 480.8V669.4M187.64 480.8V669.4M204.49 480.8V669.4M221.34 480.8V669.4M238.19 480.8V669.4M255.03 480.8V669.4M271.88 480.8V669.4M288.73 480.8V669.4M305.58 480.8V669.4M322.43 480.8V669.4M339.27 480.8V669.4M356.12 480.8V669.4M372.97 480.8V669.4M389.82 480.8V669.4M406.67 480.8V669.4M423.51 480.8V669.4M440.36 480.8V669.4M457.21 480.8V669.4M474.06 480.8V669.4M490.91 480.8V669.4M507.75 480.8V669.4M524.60 480.8V669.4M541.45 480.8V669.4M558.30 480.8V669.4M575.15 480.8V669.4M591.99 480.8V669.4M608.84 480.8V669.4M625.69 480.8V669.4M642.54 480.8V669.4M659.39 480.8V669.4M676.23 480.8V669.4M693.08 480.8V669.4M709.93 480.8V669.4M726.78 480.8V669.4M743.63 480.8V669.4M760.47 480.8V669.4M777.32 480.8V669.4M794.17 480.8V669.4M811.02 480.8V669.4M827.87 480.8V669.4M844.71 480.8V669.4M861.56 480.8V669.4M120.2 538.5H879.2M120.2 581.9H879.2M120.2 625.9H879.2" stroke="#000" stroke-opacity="0.19" stroke-width="1.1" fill="none"/>
<path d="M98.2 459V806" stroke="#2c2c2c" stroke-width="1.25"/>
<path d="M93 481.7H98.5" stroke="#111" stroke-width="1.8"/>
<path d="M93 538.5H98M93 582.1H98M93 625.8H98M93 669.6H98" stroke="#444" stroke-width="1"/>
<text x="91.3" y="493" text-anchor="end" font-size="11.2" letter-spacing="0.28" fill="#333" stroke="#333" stroke-width="0.22">06-Oct-2025</text>
<text x="91.3" y="542" text-anchor="end" font-size="11.2" letter-spacing="0.28" fill="#333" stroke="#333" stroke-width="0.22">03-Oct-2025</text>
<text x="91.3" y="586" text-anchor="end" font-size="11.2" letter-spacing="0.28" fill="#333" stroke="#333" stroke-width="0.22">02-Oct-2025</text>
<text x="91.3" y="629.8" text-anchor="end" font-size="11.2" letter-spacing="0.28" fill="#333" stroke="#333" stroke-width="0.22">01-Oct-2025</text>
<text x="91.3" y="668.5" text-anchor="end" font-size="11.2" letter-spacing="0.28" fill="#333" stroke="#333" stroke-width="0.22">30-Sep-2025</text>
<text transform="translate(13.4 581.8) rotate(-90)" text-anchor="middle" font-size="13.2" letter-spacing="-0.1" fill="#333" stroke="#333" stroke-width="0.2">Expiry</text>
<text x="273.4" y="452.7" font-size="29" fill="#161616" xml:space="preserve"><tspan letter-spacing="-1.95">USDJPY</tspan><tspan letter-spacing="4.4"> </tspan><tspan letter-spacing="1.6">strikes this week</tspan></text>
<circle cx="204.25" cy="480.25" r="8.60" fill="#fff" opacity="0.45"/><circle cx="204.25" cy="480.25" r="7.65" fill="url(#gb)"/>
<circle cx="338.75" cy="480.25" r="6.60" fill="#fff" opacity="0.45"/><circle cx="338.75" cy="480.25" r="5.65" fill="url(#gb)"/>
<circle cx="322" cy="581.25" r="6.35" fill="#fff" opacity="0.45"/><circle cx="322" cy="581.25" r="5.40" fill="url(#gb)"/>
<circle cx="338.75" cy="581.25" r="6.60" fill="#fff" opacity="0.45"/><circle cx="338.75" cy="581.25" r="5.65" fill="url(#gb)"/>
<circle cx="499.25" cy="625.1" r="8.10" fill="#fff" opacity="0.45"/><circle cx="499.25" cy="625.1" r="7.15" fill="url(#gb)"/>
<circle cx="246" cy="480.25" r="5.35" fill="#fff" opacity="0.45"/><circle cx="246" cy="480.25" r="4.40" fill="url(#gp)" fill-opacity="0.93"/>
<circle cx="255" cy="480.25" r="5.60" fill="#fff" opacity="0.45"/><circle cx="255" cy="480.25" r="4.65" fill="url(#gp)" fill-opacity="0.93"/>
<circle cx="288.25" cy="480.25" r="5.35" fill="#fff" opacity="0.45"/><circle cx="288.25" cy="480.25" r="4.40" fill="url(#gp)" fill-opacity="0.93"/>
<circle cx="625.5" cy="537.25" r="5.35" fill="#fff" opacity="0.45"/><circle cx="625.5" cy="537.25" r="4.40" fill="url(#gp)" fill-opacity="0.93"/>
<circle cx="710" cy="537.25" r="5.60" fill="#fff" opacity="0.45"/><circle cx="710" cy="537.25" r="4.65" fill="url(#gp)" fill-opacity="0.93"/>
<circle cx="305" cy="581.25" r="6.60" fill="#fff" opacity="0.45"/><circle cx="305" cy="581.25" r="5.65" fill="url(#gp)" fill-opacity="0.93"/>
<circle cx="288.25" cy="625.25" r="6.10" fill="#fff" opacity="0.45"/><circle cx="288.25" cy="625.25" r="5.15" fill="url(#gp)" fill-opacity="0.93"/>
<circle cx="204.25" cy="669" r="5.35" fill="#fff" opacity="0.45"/><circle cx="204.25" cy="669" r="4.40" fill="url(#gp)" fill-opacity="0.93"/>
<circle cx="322.25" cy="480.25" r="5.60" fill="#fff" opacity="0.45"/><circle cx="322.25" cy="480.25" r="4.65" fill="url(#gn)"/>
<circle cx="204.25" cy="537.25" r="6.35" fill="#fff" opacity="0.45"/><circle cx="204.25" cy="537.25" r="5.40" fill="url(#gn)"/>
<circle cx="372.75" cy="537.25" r="9.10" fill="#fff" opacity="0.45"/><circle cx="372.75" cy="537.25" r="8.15" fill="url(#gn)"/>
<circle cx="592" cy="537.25" r="6.10" fill="#fff" opacity="0.45"/><circle cx="592" cy="537.25" r="5.15" fill="url(#gn)"/>
<circle cx="794" cy="537.25" r="6.10" fill="#fff" opacity="0.45"/><circle cx="794" cy="537.25" r="5.15" fill="url(#gn)"/>
<circle cx="802.75" cy="537.25" r="5.60" fill="#fff" opacity="0.45"/><circle cx="802.75" cy="537.25" r="4.65" fill="url(#gn)"/>
<circle cx="288.5" cy="581.25" r="6.10" fill="#fff" opacity="0.45"/><circle cx="288.5" cy="581.25" r="5.15" fill="url(#gn)"/>
<circle cx="372.75" cy="581.25" r="8.10" fill="#fff" opacity="0.45"/><circle cx="372.75" cy="581.25" r="7.15" fill="url(#gn)"/>
<circle cx="541.25" cy="581.25" r="6.60" fill="#fff" opacity="0.45"/><circle cx="541.25" cy="581.25" r="5.65" fill="url(#gn)"/>
<circle cx="625.5" cy="581.25" r="8.85" fill="#fff" opacity="0.45"/><circle cx="625.5" cy="581.25" r="7.90" fill="url(#gn)"/>
<circle cx="667.75" cy="581.25" r="6.10" fill="#fff" opacity="0.45"/><circle cx="667.75" cy="581.25" r="5.15" fill="url(#gn)"/>
<circle cx="794.25" cy="581.25" r="6.10" fill="#fff" opacity="0.45"/><circle cx="794.25" cy="581.25" r="5.15" fill="url(#gn)"/>
<circle cx="178.75" cy="625.25" r="6.85" fill="#fff" opacity="0.45"/><circle cx="178.75" cy="625.25" r="5.90" fill="url(#gn)"/>
<circle cx="204.25" cy="625.25" r="5.60" fill="#fff" opacity="0.45"/><circle cx="204.25" cy="625.25" r="4.65" fill="url(#gn)"/>
<circle cx="625.5" cy="625.25" r="5.60" fill="#fff" opacity="0.45"/><circle cx="625.5" cy="625.25" r="4.65" fill="url(#gn)"/>
<circle cx="752" cy="625.25" r="6.35" fill="#fff" opacity="0.45"/><circle cx="752" cy="625.25" r="5.40" fill="url(#gn)"/>
<circle cx="794.25" cy="625.25" r="5.60" fill="#fff" opacity="0.45"/><circle cx="794.25" cy="625.25" r="4.65" fill="url(#gn)"/>
<circle cx="372.75" cy="669" r="8.10" fill="#fff" opacity="0.45"/><circle cx="372.75" cy="669" r="7.15" fill="url(#gn)"/>
<circle cx="423.25" cy="669" r="7.35" fill="#fff" opacity="0.45"/><circle cx="423.25" cy="669" r="6.40" fill="url(#gn)"/>
<circle cx="541.25" cy="669" r="5.60" fill="#fff" opacity="0.45"/><circle cx="541.25" cy="669" r="4.65" fill="url(#gn)"/>
<circle cx="566.5" cy="669" r="6.35" fill="#fff" opacity="0.45"/><circle cx="566.5" cy="669" r="5.40" fill="url(#gn)"/>
<circle cx="710" cy="669" r="5.60" fill="#fff" opacity="0.45"/><circle cx="710" cy="669" r="4.65" fill="url(#gn)"/>
<circle cx="752" cy="669" r="7.35" fill="#fff" opacity="0.45"/><circle cx="752" cy="669" r="6.40" fill="url(#gn)"/>
<rect x="120.2" y="480.8" width="759.0" height="188.59999999999997" rx="0.6" fill="none" stroke="#4a4a4a" stroke-width="1.5" opacity="0.85"/>
<path d="M120.3 745.3V691.1H877.4V745.3" fill="none" stroke="#3c3c3c" stroke-width="1.2"/>
<path d="M0 745.9H900" stroke="#222" stroke-width="1.1"/>
<defs><linearGradient id="bar2" x1="0" y1="0" x2="0" y2="1"><stop offset="0" stop-color="#eef2ff"/><stop offset="0.35" stop-color="#a9c0fb"/><stop offset="1" stop-color="#1f5ff0"/></linearGradient></defs>
<rect x="171.80" y="735.60" width="15.6" height="9.70" fill="url(#bar2)" stroke="#3f74ef" stroke-width="1"/>
<rect x="205.40" y="706.80" width="15.6" height="38.50" fill="url(#bar2)" stroke="#3f74ef" stroke-width="1"/>
<rect x="239.00" y="735.60" width="15.6" height="9.70" fill="url(#bar2)" stroke="#3f74ef" stroke-width="1"/>
<rect x="255.80" y="735.60" width="15.6" height="9.70" fill="url(#bar2)" stroke="#3f74ef" stroke-width="1"/>
<rect x="289.40" y="716.40" width="15.6" height="28.90" fill="url(#bar2)" stroke="#3f74ef" stroke-width="1"/>
<rect x="306.20" y="735.60" width="15.6" height="9.70" fill="url(#bar2)" stroke="#3f74ef" stroke-width="1"/>
<rect x="323.00" y="726.00" width="15.6" height="19.30" fill="url(#bar2)" stroke="#3f74ef" stroke-width="1"/>
<rect x="339.80" y="726.00" width="15.6" height="19.30" fill="url(#bar2)" stroke="#3f74ef" stroke-width="1"/>
<rect x="373.40" y="716.40" width="15.6" height="28.90" fill="url(#bar2)" stroke="#3f74ef" stroke-width="1"/>
<rect x="423.80" y="735.60" width="15.6" height="9.70" fill="url(#bar2)" stroke="#3f74ef" stroke-width="1"/>
<rect x="491.00" y="735.60" width="15.6" height="9.70" fill="url(#bar2)" stroke="#3f74ef" stroke-width="1"/>
<rect x="541.40" y="726.00" width="15.6" height="19.30" fill="url(#bar2)" stroke="#3f74ef" stroke-width="1"/>
<rect x="558.20" y="735.60" width="15.6" height="9.70" fill="url(#bar2)" stroke="#3f74ef" stroke-width="1"/>
<rect x="591.80" y="735.60" width="15.6" height="9.70" fill="url(#bar2)" stroke="#3f74ef" stroke-width="1"/>
<rect x="625.40" y="716.40" width="15.6" height="28.90" fill="url(#bar2)" stroke="#3f74ef" stroke-width="1"/>
<rect x="659.00" y="735.60" width="15.6" height="9.70" fill="url(#bar2)" stroke="#3f74ef" stroke-width="1"/>
<rect x="709.40" y="726.00" width="15.6" height="19.30" fill="url(#bar2)" stroke="#3f74ef" stroke-width="1"/>
<rect x="743.00" y="726.00" width="15.6" height="19.30" fill="url(#bar2)" stroke="#3f74ef" stroke-width="1"/>
<rect x="793.40" y="706.80" width="15.6" height="38.50" fill="url(#bar2)" stroke="#3f74ef" stroke-width="1"/>
<path d="M120 745.3H878" stroke="#111" stroke-width="2"/>
<path d="M120.50 745.3V750.9M137.33 745.3V750.9M154.15 745.3V750.9M170.98 745.3V750.9M187.81 745.3V750.9M204.63 745.3V750.9M221.46 745.3V750.9M238.29 745.3V750.9M255.12 745.3V750.9M271.94 745.3V750.9M288.77 745.3V750.9M305.60 745.3V750.9M322.42 745.3V750.9M339.25 745.3V750.9M356.08 745.3V750.9M372.91 745.3V750.9M389.73 745.3V750.9M406.56 745.3V750.9M423.39 745.3V750.9M440.21 745.3V750.9M457.04 745.3V750.9M473.87 745.3V750.9M490.69 745.3V750.9M507.52 745.3V750.9M524.35 745.3V750.9M541.18 745.3V750.9M558.00 745.3V750.9M574.83 745.3V750.9M591.66 745.3V750.9M608.48 745.3V750.9M625.31 745.3V750.9M642.14 745.3V750.9M658.96 745.3V750.9M675.79 745.3V750.9M692.62 745.3V750.9M709.45 745.3V750.9M726.27 745.3V750.9M743.10 745.3V750.9M759.93 745.3V750.9M776.75 745.3V750.9M793.58 745.3V750.9M810.41 745.3V750.9M827.23 745.3V750.9M844.06 745.3V750.9M860.89 745.3V750.9M877.72 745.3V750.9" stroke="#222" stroke-width="1.1"/>
<text x="140.5" y="799.5" text-anchor="middle" font-size="11.2" letter-spacing="0.2" fill="#333" stroke="#333" stroke-width="0.22">146.50</text>
<text x="187.5" y="799.5" text-anchor="middle" font-size="11.2" letter-spacing="0.2" fill="#333" stroke="#333" stroke-width="0.22">146.90</text>
<text x="238" y="799.5" text-anchor="middle" font-size="11.2" letter-spacing="0.2" fill="#333" stroke="#333" stroke-width="0.22">147.20</text>
<text x="288.5" y="799.5" text-anchor="middle" font-size="11.2" letter-spacing="0.2" fill="#333" stroke="#333" stroke-width="0.22">147.50</text>
<text x="338.5" y="799.5" text-anchor="middle" font-size="11.2" letter-spacing="0.2" fill="#333" stroke="#333" stroke-width="0.22">147.80</text>
<text x="388.5" y="799.5" text-anchor="middle" font-size="11.2" letter-spacing="0.2" fill="#333" stroke="#333" stroke-width="0.22">148.10</text>
<text x="439.5" y="799.5" text-anchor="middle" font-size="11.2" letter-spacing="0.2" fill="#333" stroke="#333" stroke-width="0.22">148.40</text>
<text x="490" y="799.5" text-anchor="middle" font-size="11.2" letter-spacing="0.2" fill="#333" stroke="#333" stroke-width="0.22">148.70</text>
<text x="540.8" y="799.5" text-anchor="middle" font-size="11.2" letter-spacing="0.2" fill="#333" stroke="#333" stroke-width="0.22">149.00</text>
<text x="591" y="799.5" text-anchor="middle" font-size="11.2" letter-spacing="0.2" fill="#333" stroke="#333" stroke-width="0.22">149.30</text>
<text x="642" y="799.5" text-anchor="middle" font-size="11.2" letter-spacing="0.2" fill="#333" stroke="#333" stroke-width="0.22">149.60</text>
<text x="692.3" y="799.5" text-anchor="middle" font-size="11.2" letter-spacing="0.2" fill="#333" stroke="#333" stroke-width="0.22">149.90</text>
<text x="743" y="799.5" text-anchor="middle" font-size="11.2" letter-spacing="0.2" fill="#333" stroke="#333" stroke-width="0.22">150.20</text>
<text x="793.5" y="799.5" text-anchor="middle" font-size="11.2" letter-spacing="0.2" fill="#333" stroke="#333" stroke-width="0.22">150.50</text>
<text x="860.7" y="799.5" text-anchor="middle" font-size="11.2" letter-spacing="0.2" fill="#333" stroke="#333" stroke-width="0.22">151.00</text>
<text x="520" y="817.0" text-anchor="middle" font-size="13.2" letter-spacing="-0.4" fill="#333" stroke="#333" stroke-width="0.2">Strike</text>
<text x="0.3" y="816" font-size="9.1" fill="#2e2e2e" stroke="#2e2e2e" stroke-width="0.12" textLength="159.5" lengthAdjust="spacing">Copyright&#239;&#191;&#189; Bloomberg Finance L.P.</text>
<rect x="169.45" y="487.75" width="69.6" height="33.7" rx="16.85" fill="#f0f0f1" fill-opacity="0.93" stroke="#383838" stroke-width="1.65"/><text x="179.55" y="510.90" font-size="16.3" font-weight="bold" textLength="49.6" lengthAdjust="spacingAndGlyphs" fill="#3a404c">600M</text>
<rect x="338.20" y="543.00" width="69.6" height="33.7" rx="16.85" fill="#f0f0f1" fill-opacity="0.93" stroke="#383838" stroke-width="1.65"/><text x="348.45" y="566.15" font-size="16.3" font-weight="bold" textLength="49.3" lengthAdjust="spacingAndGlyphs" fill="#3a404c">800M</text>
<rect x="591.20" y="586.65" width="69.6" height="33.7" rx="16.85" fill="#f0f0f1" fill-opacity="0.93" stroke="#383838" stroke-width="1.65"/><text x="602.40" y="609.80" font-size="16.3" font-weight="bold" textLength="47.4" lengthAdjust="spacingAndGlyphs" fill="#3a404c">700M</text>
<rect x="465.10" y="631.35" width="69.6" height="33.7" rx="16.85" fill="#f0f0f1" fill-opacity="0.93" stroke="#383838" stroke-width="1.65"/><text x="476.25" y="654.50" font-size="16.3" font-weight="bold" textLength="47.5" lengthAdjust="spacingAndGlyphs" fill="#3a404c">499M</text>
<rect x="338.20" y="676.05" width="69.6" height="33.7" rx="16.85" fill="#f0f0f1" fill-opacity="0.93" stroke="#383838" stroke-width="1.65"/><text x="349.40" y="699.20" font-size="16.3" font-weight="bold" textLength="47.4" lengthAdjust="spacingAndGlyphs" fill="#3a404c">448M</text>
</svg>
</body></html>
